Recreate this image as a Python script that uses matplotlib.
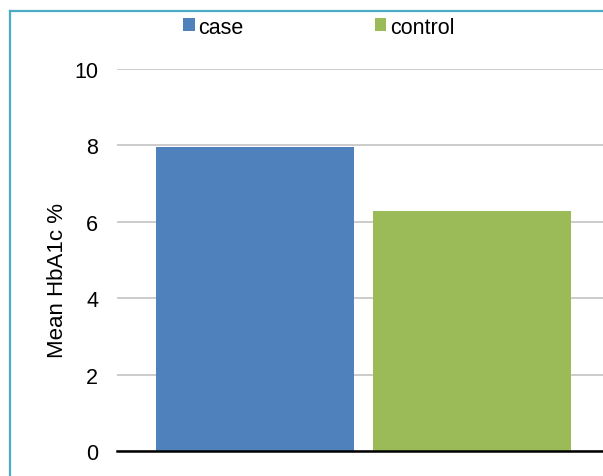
import matplotlib
matplotlib.use("Agg")
import matplotlib.pyplot as plt
from matplotlib.patches import Patch
from matplotlib.lines import Line2D

# mean HbA1c by group
groups = ['case', 'control']
hba1c = [7.95, 6.27]
colors = ['#4F81BD', '#9BBB59']
offsets = [-0.22, 0.22]
yticks = [0, 2, 4, 6, 8, 10]

plt.rcParams['font.family'] = ['Liberation Sans', 'DejaVu Sans']

fig = plt.figure(figsize=(6.03, 4.77), dpi=100)
ax = fig.add_axes([117 / 603, 25 / 477, 493 / 603, 382 / 477])

for off, val, col in zip(offsets, hba1c, colors):
    ax.bar(off, val, width=0.4, color=col, zorder=2)

ax.set_xlim(-0.5, 0.5)
ax.set_ylim(0, 10)
ax.set_yticks(yticks)
ax.set_xticks([])
ax.tick_params(axis='y', length=0, pad=13.5, labelsize=15.5)
ax.yaxis.grid(True, color='#c4c4c4', linewidth=1.2, zorder=0)
ax.set_axisbelow(True)
for side in ['top', 'right', 'left']:
    ax.spines[side].set_visible(False)
ax.spines['bottom'].set_color('black')
ax.spines['bottom'].set_linewidth(1.8)
ax.spines['bottom'].set_zorder(3)

ax.set_ylabel('Mean HbA1c %', fontsize=16)
ax.yaxis.set_label_coords(-0.0995, 0.448)

handles = [Patch(facecolor=c, edgecolor='none') for c in colors]
fig.legend(handles, groups, loc='center left', bbox_to_anchor=(183 / 603, 1 - 28 / 477),
           ncol=2, frameon=False, fontsize=15.5, handlelength=0.55, handleheight=0.55,
           handletextpad=0.15, columnspacing=6.1, borderpad=0, borderaxespad=0)

# outer chart border (cut off on right and bottom)
fig.add_artist(Line2D([9.5 / 603, 1.0], [1 - 12 / 477, 1 - 12 / 477],
                      color='#4BACC6', linewidth=1.6, transform=fig.transFigure))
fig.add_artist(Line2D([9.5 / 603, 9.5 / 603], [0, 1 - 12 / 477],
                      color='#4BACC6', linewidth=1.6, transform=fig.transFigure))

fig.savefig('out.png', dpi=100)
